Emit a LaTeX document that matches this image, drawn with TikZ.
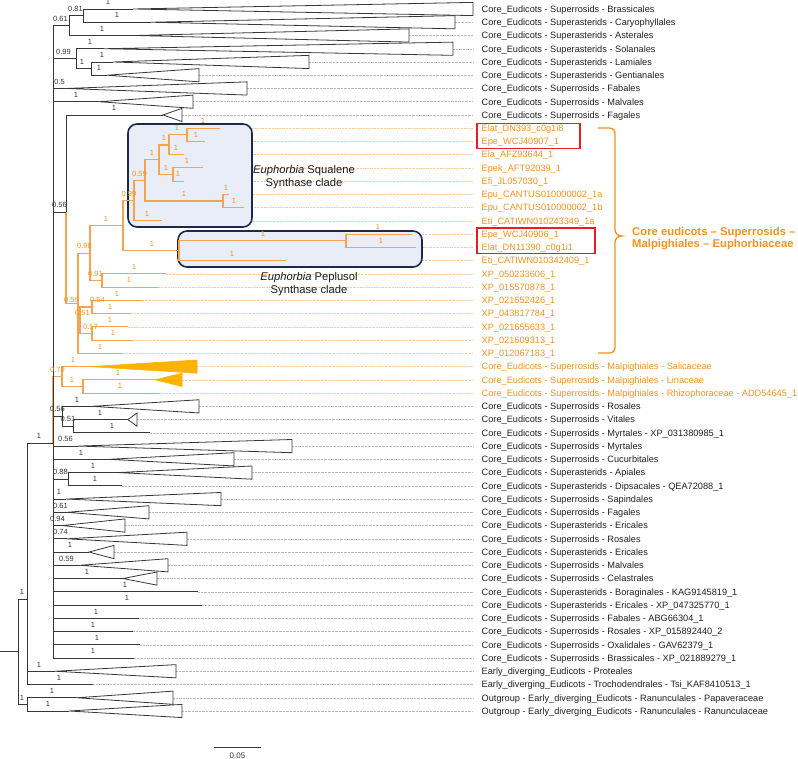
\documentclass[tikz,border=0pt]{standalone}
\usepackage{fontspec}
\setmainfont{Liberation Sans}
\definecolor{brc}{RGB}{55,55,55}
\definecolor{obr}{RGB}{244,164,78}
\definecolor{otx}{RGB}{243,146,30}
\definecolor{ofill}{RGB}{255,178,0}
\definecolor{navy}{RGB}{28,42,72}
\definecolor{boxfill}{RGB}{232,237,247}
\definecolor{redb}{RGB}{228,30,36}
\definecolor{leadg}{RGB}{185,185,185}
\definecolor{leado}{RGB}{249,204,155}
\tikzset{
 br/.style={draw=brc, line width=0.9pt},
 obranch/.style={draw=obr, line width=1.1pt},
 tri/.style={draw=brc, line width=0.8pt, line join=miter},
 otri/.style={draw=ofill, fill=ofill, line width=0.6pt},
 lead/.style={draw=leadg, line width=0.45pt, dash pattern=on 0.7pt off 0.7pt},
 olead/.style={draw=leado, line width=0.45pt, dash pattern=on 0.7pt off 0.7pt},
 tlab/.style={inner sep=0pt, font=\fontsize{9.2}{11}\selectfont, text=black!88},
 otlab/.style={tlab, text=otx},
 blab/.style={inner sep=0pt, font=\fontsize{7.5}{9}\selectfont, text=brc},
 oblab/.style={blab, text=otx},
 cbox/.style={draw=navy, fill=boxfill, line width=1.6pt, rounded corners=9pt},
 rbox/.style={draw=redb, line width=1.4pt},
 ctext/.style={align=center, inner sep=0pt, font=\fontsize{11.2}{13}\selectfont, text=black!90},
 btext/.style={align=left, inner sep=0pt, font=\bfseries\fontsize{11.3}{12.7}\selectfont, text=otx},
 brk/.style={draw=otx, line width=1.3pt}
}
\newcommand\rowy[1]{\pgfmathsetmacro\ry{9+13.245*(#1-1)}}
\newcommand\tip[4]{\rowy{#1}\coordinate (T#1) at (#2,\ry);\coordinate (E#1) at (473,\ry);\node[#4, anchor=base west] (L#1) at (481.5,{\ry+3.3}) {#3};}
\newcommand\apex[2]{\rowy{#1}\coordinate (A#1) at (#2,\ry);}
\newcounter{blc}
\newcommand\bl[4][blab]{\stepcounter{blc}\node[#1] (bl\theblc) at (#2,{#3-6.8}) {#4};}
\newcommand\tri[2][tri]{\draw[#1] (A#2) -- ([yshift=6.6pt]T#2) -- ([yshift=-6.6pt]T#2) -- cycle;}
\begin{document}
\begin{tikzpicture}[x=1pt,y=-1pt]
\useasboundingbox (0,0) rectangle (798,759);
% ---------- tips and labels
\tip{1}{473}{Core\_Eudicots - Superrosids - Brassicales}{tlab}
\tip{2}{455}{Core\_Eudicots - Superasterids - Caryophyllales}{tlab}
\tip{3}{409}{Core\_Eudicots - Superasterids - Asterales}{tlab}
\tip{4}{453}{Core\_Eudicots - Superasterids - Solanales}{tlab}
\tip{5}{309}{Core\_Eudicots - Superasterids - Lamiales}{tlab}
\tip{6}{199}{Core\_Eudicots - Superasterids - Gentianales}{tlab}
\tip{7}{247}{Core\_Eudicots - Superrosids - Fabales}{tlab}
\tip{8}{193}{Core\_Eudicots - Superrosids - Malvales}{tlab}
\tip{9}{182}{Core\_Eudicots - Superrosids - Fagales}{tlab}
\tip{10}{220}{Elat\_DN393\_c0g1i8}{otlab}
\tip{11}{205}{Epe\_WCJ40907\_1}{otlab}
\tip{12}{184}{Ela\_AFZ93644\_1}{otlab}
\tip{13}{203}{Epek\_AFT92039\_1}{otlab}
\tip{14}{184}{Efi\_JL057030\_1}{otlab}
\tip{15}{229}{Epu\_CANTUS010000002\_1a}{otlab}
\tip{16}{244}{Epu\_CANTUS010000002\_1b}{otlab}
\tip{17}{162}{Eti\_CATIWN010243349\_1a}{otlab}
\tip{18}{412}{Epe\_WCJ40906\_1}{otlab}
\tip{19}{416}{Elat\_DN11390\_c0g1i1}{otlab}
\tip{20}{286}{Eti\_CATIWN010342409\_1}{otlab}
\tip{21}{166}{XP\_050233606\_1}{otlab}
\tip{22}{158}{XP\_015570878\_1}{otlab}
\tip{23}{142}{XP\_021652426\_1}{otlab}
\tip{24}{131}{XP\_043817784\_1}{otlab}
\tip{25}{128}{XP\_021655633\_1}{otlab}
\tip{26}{133}{XP\_021609313\_1}{otlab}
\tip{27}{123}{XP\_012067183\_1}{otlab}
\tip{28}{197}{Core\_Eudicots - Superrosids - Malpighiales - Salicaceae}{otlab}
\tip{29}{182}{Core\_Eudicots - Superrosids - Malpighiales - Linaceae}{otlab}
\tip{30}{159}{Core\_Eudicots - Superrosids - Malpighiales - Rhizophoraceae - ADD54645\_1}{otlab}
\tip{31}{199}{Core\_Eudicots - Superrosids - Rosales}{tlab}
\tip{32}{137}{Core\_Eudicots - Superrosids - Vitales}{tlab}
\tip{33}{150}{Core\_Eudicots - Superrosids - Myrtales - XP\_031380985\_1}{tlab}
\tip{34}{292}{Core\_Eudicots - Superrosids - Myrtales}{tlab}
\tip{35}{234}{Core\_Eudicots - Superrosids - Cucurbitales}{tlab}
\tip{36}{252}{Core\_Eudicots - Superasterids - Apiales}{tlab}
\tip{37}{122}{Core\_Eudicots - Superasterids - Dipsacales - QEA72088\_1}{tlab}
\tip{38}{221}{Core\_Eudicots - Superrosids - Sapindales}{tlab}
\tip{39}{149}{Core\_Eudicots - Superrosids - Fagales}{tlab}
\tip{40}{125}{Core\_Eudicots - Superasterids - Ericales}{tlab}
\tip{41}{187}{Core\_Eudicots - Superrosids - Rosales}{tlab}
\tip{42}{114}{Core\_Eudicots - Superasterids - Ericales}{tlab}
\tip{43}{168}{Core\_Eudicots - Superrosids - Malvales}{tlab}
\tip{44}{157}{Core\_Eudicots - Superrosids - Celastrales}{tlab}
\tip{45}{198}{Core\_Eudicots - Superasterids - Boraginales - KAG9145819\_1}{tlab}
\tip{46}{202}{Core\_Eudicots - Superasterids - Ericales - XP\_047325770\_1}{tlab}
\tip{47}{139}{Core\_Eudicots - Superrosids - Fabales - ABG66304\_1}{tlab}
\tip{48}{133}{Core\_Eudicots - Superrosids - Rosales - XP\_015892440\_2}{tlab}
\tip{49}{140}{Core\_Eudicots - Superrosids - Oxalidales - GAV62379\_1}{tlab}
\tip{50}{134}{Core\_Eudicots - Superrosids - Brassicales - XP\_021889279\_1}{tlab}
\tip{51}{176}{Early\_diverging\_Eudicots - Proteales}{tlab}
\tip{52}{93}{Early\_diverging\_Eudicots - Trochodendrales - Tsi\_KAF8410513\_1}{tlab}
\tip{53}{173}{Outgroup - Early\_diverging\_Eudicots - Ranunculales - Papaveraceae}{tlab}
\tip{54}{182}{Outgroup - Early\_diverging\_Eudicots - Ranunculales - Ranunculaceae}{tlab}
% ---------- triangle apices
\apex{1}{133}\apex{2}{151}\apex{3}{135}\apex{4}{104}\apex{5}{113}\apex{6}{107}
\apex{7}{66}\apex{8}{99}\apex{9}{163}\apex{28}{90}\apex{29}{155}\apex{31}{92}
\apex{32}{128}\apex{34}{78}\apex{35}{109}\apex{36}{118}\apex{38}{66}\apex{39}{67}
\apex{40}{62}\apex{41}{67}\apex{42}{89}\apex{43}{80}\apex{44}{123}\apex{51}{55}
\apex{53}{77}\apex{54}{69}
% ---------- internal nodes
\coordinate (R0) at (0,651.5);
\coordinate (R) at (18,651.5);
\coordinate (X27) at (27,599);
\coordinate (OG) at (27,704.4);
\coordinate (N1) at (53,443);
\coordinate (N061) at (69,25.8);
\coordinate (N081) at (83,15.6);
\coordinate (N099) at (76,58.7);
\coordinate (N91) at (91,68.6);
\coordinate (N056) at (66,212);
\coordinate (O056) at (78,303.4);
\coordinate (O098) at (90,253.2);
\coordinate (OA) at (123,225.9);
\coordinate (O099) at (134,200.6);
\coordinate (O059) at (145,180.4);
\coordinate (Ob1) at (159,159.9);
\coordinate (Oc) at (169,145.0);
\coordinate (Od) at (187,134.85);
\coordinate (Oe) at (173,174.6);
\coordinate (Of) at (223,201.05);
\coordinate (Pep) at (179,250.7);
\coordinate (Pg) at (346,240.8);
\coordinate (O091) at (102,280.5);
\coordinate (O051) at (80,320.1);
\coordinate (O054) at (92,307.0);
\coordinate (O057) at (92,333.5);
\coordinate (O079) at (62,376.4);
\coordinate (Oh) at (83,386.45);
\coordinate (N056b) at (62,416.2);
\coordinate (N051) at (73,426.2);
\coordinate (N088) at (68,479.15);
% ---------- leaders
\foreach \i in {2,...,9,31,32,...,54} {\draw[lead] (T\i) -- (E\i);}
\foreach \i in {10,...,30} {\draw[olead] (T\i) -- (E\i);}
% ---------- clade boxes
\draw[cbox] (128,124) rectangle (252,227);
\draw[cbox] (178,231) rectangle (422,267);
% ---------- orange branches
\draw[obranch] (N056) |- (O056);
\draw[obranch] (O056) |- (O098);
\draw[obranch] (O098) |- (OA);
\draw[obranch] (OA) |- (O099);
\draw[obranch] (O099) |- (O059);
\draw[obranch] (O059) |- (Ob1);
\draw[obranch] (Ob1) |- (Oc);
\draw[obranch] (Oc) |- (Od);
\draw[obranch] (Od) |- (T10);
\draw[obranch] (Od) |- (T11);
\draw[obranch] (Oc) |- (T12);
\draw[obranch] (Ob1) |- (Oe);
\draw[obranch] (Oe) |- (T13);
\draw[obranch] (Oe) |- (T14);
\draw[obranch] (O059) |- (Of);
\draw[obranch] (Of) |- (T15);
\draw[obranch] (Of) |- (T16);
\draw[obranch] (O099) |- (T17);
\draw[obranch] (OA) |- (Pep);
\draw[obranch] (Pep) |- (Pg);
\draw[obranch] (Pg) |- (T18);
\draw[obranch] (Pg) |- (T19);
\draw[obranch] (Pep) |- (T20);
\draw[obranch] (O098) |- (O091);
\draw[obranch] (O091) |- (T21);
\draw[obranch] (O091) |- (T22);
\draw[obranch] (O056) |- (O051);
\draw[obranch] (O051) |- (O054);
\draw[obranch] (O054) |- (T23);
\draw[obranch] (O054) |- (T24);
\draw[obranch] (O051) |- (O057);
\draw[obranch] (O057) |- (T25);
\draw[obranch] (O057) |- (T26);
\draw[obranch] (O056) |- (T27);
\draw[obranch] (N1) |- (O079);
\draw[obranch] (O079) |- (A28);
\draw[obranch] (O079) |- (Oh);
\draw[obranch] (Oh) |- (A29);
\draw[obranch] (Oh) |- (T30);
% ---------- black branches
\draw[br] (R0) -- (R);
\draw[br] (R) |- (X27);
\draw[br] (R) |- (OG);
\draw[br] (X27) |- (N1);
\draw[br] (X27) |- (A51);
\draw[br] (X27) |- (T52);
\draw[br] (OG) |- (A53);
\draw[br] (OG) |- (A54);
\draw[br] (N1) |- (N061);
\draw[br] (N061) |- (N081);
\draw[br] (N081) |- (A1);
\draw[br] (N081) |- (A2);
\draw[br] (N061) |- (A3);
\draw[br] (N1) |- (N099);
\draw[br] (N099) |- (A4);
\draw[br] (N099) |- (N91);
\draw[br] (N91) |- (A5);
\draw[br] (N91) |- (A6);
\draw[br] (N1) |- (A7);
\draw[br] (N1) |- (A8);
\draw[br] (N1) |- (N056);
\draw[br] (N056) |- (A9);
\draw[br] (N1) |- (N056b);
\draw[br] (N056b) |- (A31);
\draw[br] (N056b) |- (N051);
\draw[br] (N051) |- (A32);
\draw[br] (N051) |- (T33);
\draw[br] (N1) |- (A34);
\draw[br] (N1) |- (A35);
\draw[br] (N1) |- (N088);
\draw[br] (N088) |- (A36);
\draw[br] (N088) |- (T37);
\foreach \i in {38,...,44} {\draw[br] (N1) |- (A\i);}
\foreach \i in {45,...,50} {\draw[br] (N1) |- (T\i);}
% ---------- collapsed clades
\foreach \i in {1,...,9,31,32,34,35,36,38,39,40,41,42,43,44,51,53,54} {\tri{\i}}
\tri[otri]{28}
\tri[otri]{29}
% ---------- branch supports (black)
\bl{75.5}{15.6}{0.81}\bl{108}{9}{1}\bl{117}{22.2}{1}\bl{60.5}{25.8}{0.61}
\bl{102}{35.5}{1}\bl{63.5}{58.7}{0.99}\bl{90}{48.7}{1}\bl{82}{68.6}{1}
\bl{102}{62}{1}\bl{99}{75.2}{1}\bl{59.5}{88.5}{0.5}\bl{76}{101.7}{1}
\bl{114}{115}{1}\bl{59.5}{212}{0.56}\bl{39}{443}{1}\bl{57.5}{416.2}{0.56}
\bl{77}{406.3}{1}\bl{68}{426.2}{0.51}\bl{100}{419.6}{1}\bl{112}{432.8}{1}
\bl{65.5}{446}{0.56}\bl{81}{459.3}{1}\bl{60.5}{479.15}{0.88}\bl{93}{472.5}{1}
\bl{95}{485.8}{1}\bl{59}{499}{1}\bl{60.5}{512.3}{0.61}\bl{57.5}{525.5}{0.94}
\bl{60.5}{538.8}{0.74}\bl{70}{552}{1}\bl{66.5}{565.3}{0.59}\bl{87}{578.5}{1}
\bl{125}{591.8}{1}\bl{127}{605}{1}\bl{96}{618.3}{1}\bl{93}{631.5}{1}
\bl{97}{644.8}{1}\bl{93}{658}{1}\bl{22}{599}{1}\bl{39}{671.3}{1}
\bl{59}{684.5}{1}\bl{22}{704.4}{1}\bl{52}{697.8}{1}\bl{48}{711}{1}
% ---------- branch supports (orange)
\bl[oblab]{71.5}{306.8}{0.56}\bl[oblab]{84.5}{253.2}{0.98}\bl[oblab]{106}{225.9}{1}
\bl[oblab]{129}{200.6}{0.99}\bl[oblab]{139.5}{180.4}{0.59}\bl[oblab]{152}{159.9}{1}
\bl[oblab]{164}{145}{1}\bl[oblab]{177}{134.85}{1}\bl[oblab]{203}{128.2}{1}
\bl[oblab]{196}{141.5}{1}\bl[oblab]{176}{154.7}{1}\bl[oblab]{166}{174.6}{1}
\bl[oblab]{187}{168}{1}\bl[oblab]{178}{181.2}{1}\bl[oblab]{184}{201}{1}
\bl[oblab]{226}{194.4}{1}\bl[oblab]{234}{207.7}{1}\bl[oblab]{147}{220.9}{1}
\bl[oblab]{152}{250.7}{1}\bl[oblab]{263}{240.8}{1}\bl[oblab]{378}{234.2}{1}
\bl[oblab]{381}{247.4}{1}\bl[oblab]{232}{260.7}{1}\bl[oblab]{95.5}{280.5}{0.91}
\bl[oblab]{134}{273.9}{1}\bl[oblab]{129}{287.1}{1}\bl[oblab]{82.5}{320.1}{0.51}
\bl[oblab]{97.5}{307}{0.54}\bl[oblab]{117}{300.4}{1}\bl[oblab]{110}{313.6}{1}
\bl[oblab]{90.5}{333.5}{0.57}\bl[oblab]{110}{326.9}{1}\bl[oblab]{113}{340.1}{1}
\bl[oblab]{100}{353.4}{1}\bl[oblab]{57.5}{376.4}{0.79}\bl[oblab]{73}{366.6}{1}
\bl[oblab]{72}{386.45}{1}\bl[oblab]{118}{379.8}{1}\bl[oblab]{120}{393.1}{1}
% ---------- clade captions
\node[ctext] (sqt) at (304,177.5) {\textit{Euphorbia} Squalene\\Synthase clade};
\node[ctext] (ppt) at (309,284) {\textit{Euphorbia} Peplusol\\Synthase clade};
% ---------- red boxes
\draw[rbox] (477,123.3) rectangle (580,148.3);
\draw[rbox] (477,228) rectangle (595,253.5);
% ---------- bracket
\draw[brk] (598,128) -- (609,128) .. controls (613,128) and (615,130) .. (615,134)
  -- (615,229) .. controls (615,233) and (617,236) .. (622,236)
  .. controls (617,236) and (615,239) .. (615,243)
  -- (615,347) .. controls (615,351) and (613,353) .. (609,353) -- (598,353);
\node[btext, anchor=west] (grp) at (632,238.5) {Core eudicots – Superrosids –\\Malpighiales – Euphorbiaceae};
% ---------- scale bar
\coordinate (sb1) at (214,747);
\coordinate (sb2) at (261,747);
\draw[br] (sb1) -- (sb2);
\node[blab, font=\fontsize{8}{9}\selectfont] (sbl) at (237.5,756) {0.05};
\end{tikzpicture}
\end{document}
